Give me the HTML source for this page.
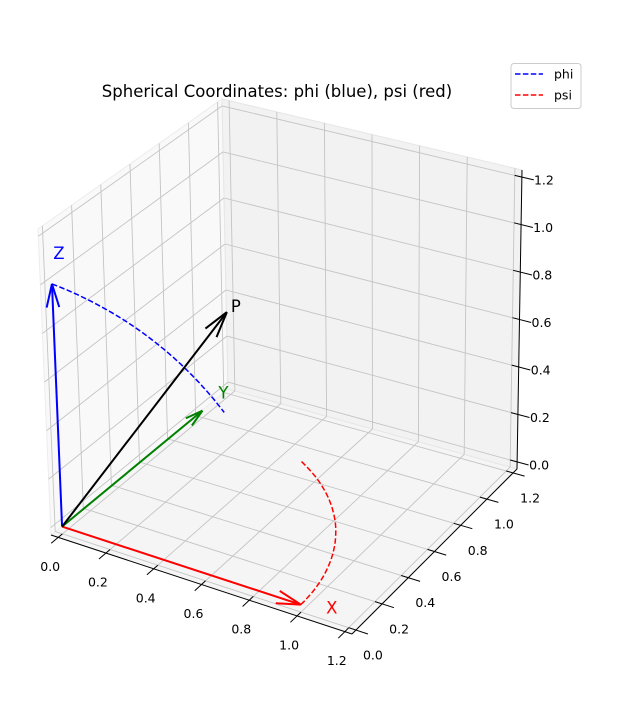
<!DOCTYPE html>
<html><head><meta charset="utf-8"><style>
html,body{margin:0;padding:0;background:#fff;}
svg{display:block;font-family:"DejaVu Sans","Liberation Sans",sans-serif;}
</style></head><body>
<svg id="chart" width="626" height="712" viewBox="0 0 626 712">
<rect width="626" height="712" fill="#fff"/>
<text x="277" y="97" font-size="16.5" text-anchor="middle">Spherical Coordinates: phi (blue), psi (red)</text>
<g id="panes"></g>
<g id="grid"></g>
<g id="axes"></g>
<g id="marks"></g>
<g>
<rect x="511" y="63.5" width="70" height="45" rx="3" fill="#fff" fill-opacity="0.8" stroke="#cccccc"/>
<line x1="515" y1="74" x2="543" y2="74" stroke="#0000ff" stroke-width="1.5" stroke-dasharray="5.5,2.4"/>
<text x="554" y="78.5" font-size="12.5">phi</text>
<line x1="515" y1="95" x2="543" y2="95" stroke="#ff0000" stroke-width="1.5" stroke-dasharray="5.5,2.4"/>
<text x="554" y="99.5" font-size="12.5">psi</text>
</g>
</svg>
<script>
// ---- data ----
const tickValues = [0, 0.2, 0.4, 0.6, 0.8, 1.0, 1.2];
const tickLabels = ["0.0","0.2","0.4","0.6","0.8","1.0","1.2"];
const xVec = [1, 0, 0];
const yVec = [0, 1, 0];
const zVec = [0, 0, 1];
const pVec = [0.354, 0.612, 0.707];
const psiDeg = [0, 60];
const psiRadius = [1];
const phiArcStart = [0, 0, 1];
const phiArcMid = [0.08, 0.47, 0.61];
const phiArcEnd = [0.15, 0.91, 0.08];

// ---- projection (trilinear between pane-box corners) ----
const lo = -0.03, hi = 1.23;
const C = {
  '000':[51,535],'100':[352,634],'010':[228,389],'110':[517,469],
  '001':[38,229],'101':[343,320],'011':[222,99],'111':[522,170]
};
function P(x,y,z){
  const u=(x-lo)/(hi-lo), v=(y-lo)/(hi-lo), w=(z-lo)/(hi-lo);
  let px=0,py=0;
  for(const a of [0,1])for(const b of [0,1])for(const c of [0,1]){
    const wt=(a?u:1-u)*(b?v:1-v)*(c?w:1-w);
    const k=C[''+a+b+c]; px+=wt*k[0]; py+=wt*k[1];
  }
  return [px,py];
}
const NS='http://www.w3.org/2000/svg';
function el(tag,attrs,parent){const e=document.createElementNS(NS,tag);for(const k in attrs)e.setAttribute(k,attrs[k]);parent.appendChild(e);return e;}
function line3(a,b,attrs,parent){const p=P(...a),q=P(...b);return el('line',Object.assign({x1:p[0].toFixed(1),y1:p[1].toFixed(1),x2:q[0].toFixed(1),y2:q[1].toFixed(1)},attrs),parent);}
function poly3(pts){return pts.map(p=>P(...p)).map(p=>p[0].toFixed(1)+','+p[1].toFixed(1)).join(' ');}

const panes=document.getElementById('panes');
let e;
e=el('polygon',{points:poly3([[lo,lo,lo],[hi,lo,lo],[hi,hi,lo],[lo,hi,lo]]),fill:'#f5f5f5',stroke:'#ececec'},panes);
 
e=el('polygon',{points:poly3([[lo,lo,lo],[lo,hi,lo],[lo,hi,hi],[lo,lo,hi]]),fill:'#f9f9f9',stroke:'#ececec'},panes);
 
e=el('polygon',{points:poly3([[lo,hi,lo],[hi,hi,lo],[hi,hi,hi],[lo,hi,hi]]),fill:'#f2f2f2',stroke:'#e6e6e6'},panes);
 

const grid=document.getElementById('grid');
const gs={stroke:'#c4c4c4','stroke-width':0.9};
tickValues.forEach(t=>{
  e=line3([t,lo,lo],[t,hi,lo],gs,grid);  
  e=line3([lo,t,lo],[hi,t,lo],gs,grid);  
  e=line3([lo,t,lo],[lo,t,hi],gs,grid);  
  e=line3([lo,lo,t],[lo,hi,t],gs,grid);  
  e=line3([t,hi,lo],[t,hi,hi],gs,grid);  
  e=line3([lo,hi,t],[hi,hi,t],gs,grid);  
});

const axes=document.getElementById('axes');
const as={stroke:'#000','stroke-width':1};
e=line3([lo,lo,lo],[hi,lo,lo],as,axes);  
e=line3([hi,lo,lo],[hi,hi,lo],as,axes);  
e=line3([hi,hi,lo],[hi,hi,hi],as,axes);  
function label(x,y,txt,name){
  const t=el('text',{x:x.toFixed(1),y:(y+4.5).toFixed(1),'font-size':12.5,'text-anchor':'middle',fill:'#000'},axes);
  t.textContent=txt;
  
  
}
tickValues.forEach((t,i)=>{
  e=line3([t,lo-0.05,lo],[t,lo+0.03,lo],as,axes);  
  let p=P(t,lo,lo); label(p[0]-8,p[1]+29,tickLabels[i],'x-tick-label');
  e=line3([hi+0.05,t,lo],[hi-0.03,t,lo],as,axes);  
  p=P(hi,t,lo); label(p[0]+17,p[1]+25,tickLabels[i],'y-tick-label');
  e=line3([hi+0.05,hi,t],[hi-0.03,hi,t],as,axes);  
  p=P(hi,hi,t); label(p[0]+22,p[1]+3,tickLabels[i],'z-tick-label');
});

const marks=document.getElementById('marks');
function arrow(vec,color,name){
  const g=el('g',{},marks);
  
  
  const o=P(0,0,0), t=P(...vec);
  el('line',{x1:o[0],y1:o[1],x2:t[0],y2:t[1],stroke:color,'stroke-width':2},g);
  const dx=o[0]-t[0], dy=o[1]-t[1], L=Math.hypot(dx,dy), hl=L*0.1;
  [15,-15].forEach(a=>{
    const r=a*Math.PI/180, ux=dx/L, uy=dy/L;
    const hx=ux*Math.cos(r)-uy*Math.sin(r), hy=ux*Math.sin(r)+uy*Math.cos(r);
    el('line',{x1:t[0],y1:t[1],x2:t[0]+hx*hl,y2:t[1]+hy*hl,stroke:color,'stroke-width':2},g);
  });
  return t;
}
// psi arc (red)
const psiPts=[];
for(let i=0;i<=40;i++){const a=(psiDeg[0]+(psiDeg[1]-psiDeg[0])*i/40)*Math.PI/180;psiPts.push([psiRadius[0]*Math.cos(a),psiRadius[0]*Math.sin(a),0]);}
e=el('polyline',{points:poly3(psiPts),fill:'none',stroke:'#ff0000','stroke-width':1.5,'stroke-dasharray':'5.5,2.4'},marks);
 
// phi arc (blue): circle through three 3D points
function sub(a,b){return a.map((v,i)=>v-b[i]);}
function add(a,b){return a.map((v,i)=>v+b[i]);}
function mul(a,s){return a.map(v=>v*s);}
function dot(a,b){return a.reduce((s,v,i)=>s+v*b[i],0);}
function cross(a,b){return [a[1]*b[2]-a[2]*b[1],a[2]*b[0]-a[0]*b[2],a[0]*b[1]-a[1]*b[0]];}
(function(){
  const A=phiArcStart,B=phiArcMid,Cc=phiArcEnd;
  const ab=sub(B,A), ac=sub(Cc,A), n=cross(ab,ac), nn=dot(n,n);
  const cen=add(A,mul(add(mul(cross(n,ab),dot(ac,ac)),mul(cross(ac,n),dot(ab,ab))),1/(2*nn)));
  const r=Math.sqrt(dot(sub(A,cen),sub(A,cen)));
  const e1=mul(sub(A,cen),1/r), nh=mul(n,1/Math.sqrt(nn)), e2=cross(nh,e1);
  const ang=q=>{const d=sub(q,cen);return Math.atan2(dot(d,e2),dot(d,e1));};
  let end=ang(Cc); if(end<0)end+=2*Math.PI;
  const pts=[];
  for(let i=0;i<=40;i++){const t=end*i/40;pts.push(add(cen,add(mul(e1,r*Math.cos(t)),mul(e2,r*Math.sin(t)))));}
  const pl=el('polyline',{points:poly3(pts),fill:'none',stroke:'#0000ff','stroke-width':1.5,'stroke-dasharray':'5.5,2.4'},marks);
  
  
})();
const tx=arrow(xVec,'#ff0000','x-arrow');
const ty=arrow(yVec,'#008000','y-arrow');
const tz=arrow(zVec,'#0000ff','z-arrow');
const tp=arrow(pVec,'#000000','p-arrow');
function vlabel(p,dx,dy,txt,color,name){
  const t=el('text',{x:p[0]+dx,y:p[1]+dy,'font-size':16.5,'text-anchor':'middle',fill:color},marks);
  t.textContent=txt;
  
  
}
vlabel(tx,31,9,'X','#ff0000','x-label');
vlabel(ty,21,-12,'Y','#008000','y-label');
vlabel(tz,7,-25,'Z','#0000ff','z-label');
vlabel(tp,9,0,'P','#000000','p-label');
</script>
</body></html>
